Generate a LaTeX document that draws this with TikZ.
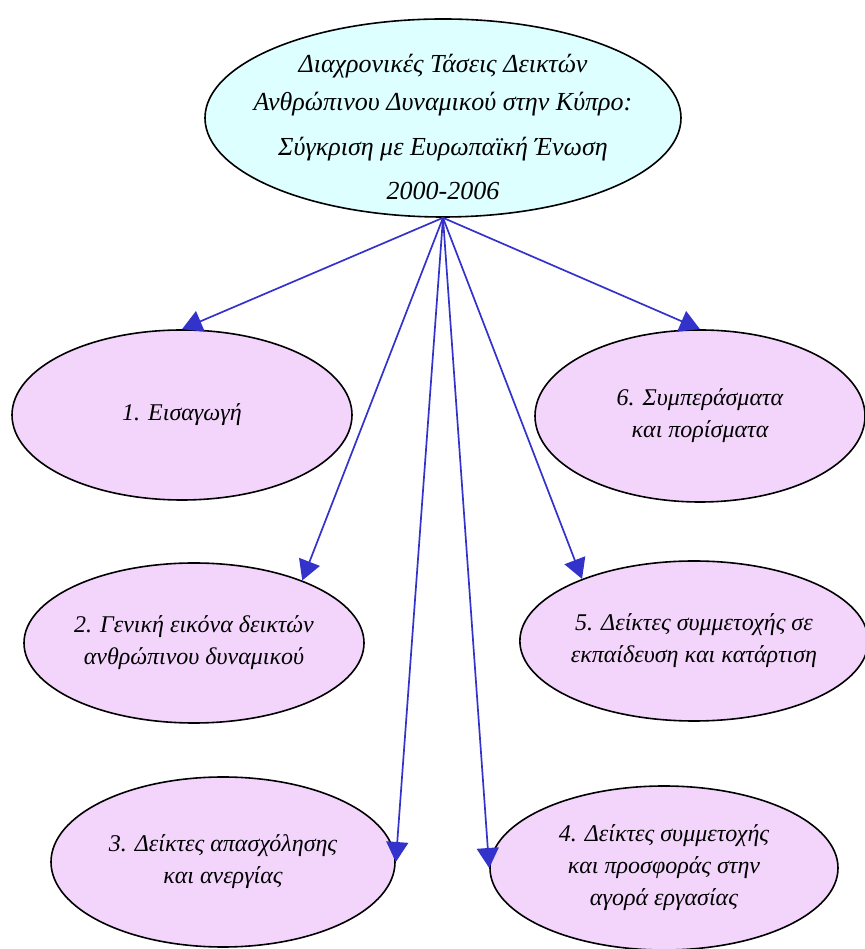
\documentclass[tikz,border=0pt]{standalone}
\usepackage{fontspec}
\setmainfont{Liberation Serif}
\usetikzlibrary{shapes.geometric,arrows.meta}
\definecolor{topfill}{RGB}{221,255,255}
\definecolor{subfill}{RGB}{243,213,252}
\definecolor{edgecol}{RGB}{51,51,204}
\begin{document}
\begin{tikzpicture}[>={Triangle[length=20bp,width=22bp]},line join=bevel,
  topnode/.style={ellipse,draw=black,fill=topfill,line width=1.6bp,
    inner xsep=-60bp,inner ysep=-30bp,
    align=center,font=\fontsize{26bp}{38bp}\selectfont\itshape},
  subnode/.style={ellipse,draw=black,fill=subfill,line width=1.6bp,inner sep=0pt,
    align=center,font=\fontsize{24bp}{32bp}\selectfont\itshape},
  edge/.style={->,draw=edgecol,fill=edgecol,line width=1.7bp}]
  \useasboundingbox (0bp,0bp) rectangle (865bp,949bp);
%%
  % Node: Title
  \node [topnode,minimum width=476bp,minimum height=198bp] (title) at (443bp,831bp)
    {\rule{0pt}{36bp}Διαχρονικές Τάσεις Δεικτών\\Ανθρώπινου Δυναμικού στην Κύπρο:\\[7bp]Σύγκριση με Ευρωπαϊκή Ένωση\\[6bp]2000-2006};
  % Node: Intro
  \node [subnode,minimum width=340bp,minimum height=170bp] (intro) at (182bp,534bp)
    {1. Εισαγωγή};
  % Node: Overview
  \node [subnode,minimum width=340bp,minimum height=160bp] (overview) at (194bp,306bp)
    {2. Γενική εικόνα δεικτών\\ανθρώπινου δυναμικού};
  % Node: Employment
  \node [subnode,minimum width=344bp,minimum height=170bp] (employment) at (223bp,87bp)
    {3. Δείκτες απασχόλησης\\και ανεργίας};
  % Node: Labour
  \node [subnode,minimum width=348bp,minimum height=164bp] (labour) at (664bp,81bp)
    {4. Δείκτες συμμετοχής\\και προσφοράς στην\\αγορά εργασίας};
  % Node: Training
  \node [subnode,minimum width=342bp,minimum height=160bp] (training) at (694bp,308bp)
    {5. Δείκτες συμμετοχής σε\\εκπαίδευση και κατάρτιση};
  % Node: Results
  \node [subnode,minimum width=330bp,minimum height=172bp] (results) at (700bp,533bp)
    {6. Συμπεράσματα\\και πορίσματα};
%%
  % Edge: Title -> Intro
  \draw [edge] (title.south) -- (intro.north);
  % Edge: Title -> Overview
  \draw [edge] (title.south) -- (overview.30);
  % Edge: Title -> Employment
  \draw [edge] (title.south) -- (employment.east);
  % Edge: Title -> Labour
  \draw [edge] (title.south) -- (labour.west);
  % Edge: Title -> Training
  \draw [edge] (title.south) -- (training.151);
  % Edge: Title -> Results
  \draw [edge] (title.south) -- (results.north);
%
\end{tikzpicture}
\end{document}
